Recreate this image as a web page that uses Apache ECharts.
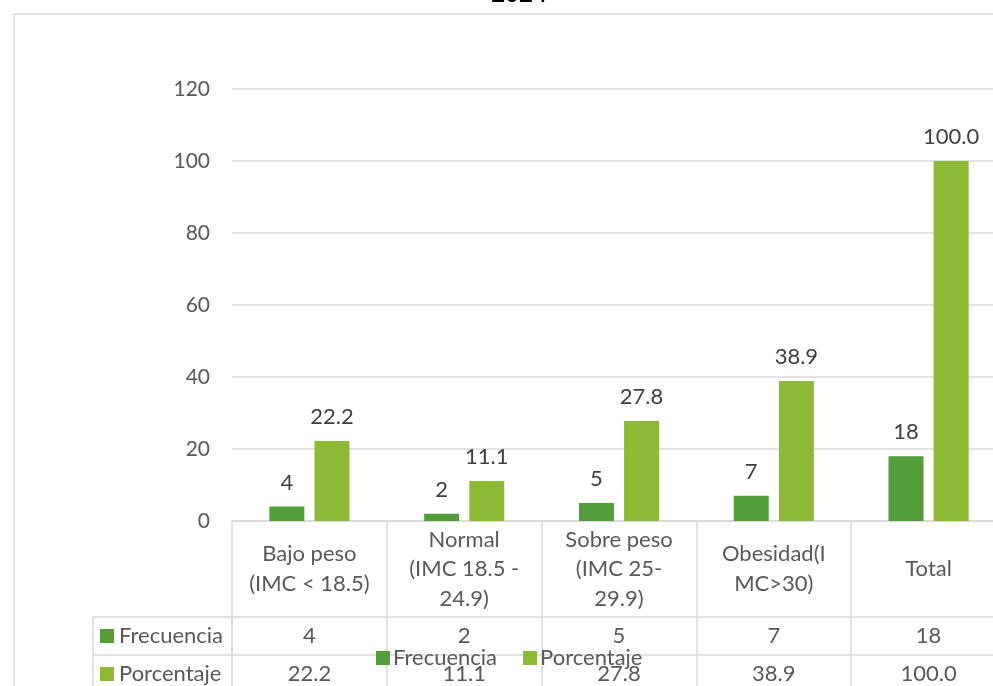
<!DOCTYPE html>
<html>
<head>
<meta charset="utf-8">
<script src="https://cdn.jsdelivr.net/npm/echarts@6/dist/echarts.min.js"></script>
<style>
  html, body { margin: 0; padding: 0; background: #fff; }
  #chart { width: 993px; height: 686px; }
</style>
</head>
<body>
<div id="chart"></div>
<script>
const categories = [
  'Bajo peso\n(IMC < 18.5)',
  'Normal\n(IMC 18.5 -\n24.9)',
  'Sobre peso\n(IMC 25-\n29.9)',
  'Obesidad(I\nMC>30)',
  'Total'
]
const frecuencia = [4, 2, 5, 7, 18]
const porcentaje = [22.2, 11.1, 27.8, 38.9, 100.0]
const yTicks = { min: 0, max: 120, interval: 20 }

const FONT = 'Lato, "Open Sans", sans-serif'
const FS = 22
const TXT = '#595959'
const LINE = '#d9d9d9'
const C_FREC = '#539e3a'
const C_PORC = '#8cba35'

// layout of the plot / data table
const gridLeft = 232
const gridTop = 89
const gridHeight = 432
const zeroY = gridTop + gridHeight // 521
const row1Y = zeroY + 96 // 617
const row2Y = row1Y + 38 // 655
const rowH = 38
const tableLeft = 93

const chart = echarts.init(document.getElementById('chart'))

const option = {
  animation: false,
  textStyle: { fontFamily: FONT },
  title: {
    text: '2024',
    left: 514,
    textAlign: 'center',
    top: -23,
    textStyle: { fontSize: 24, fontWeight: 'bold', color: '#000', fontFamily: FONT }
  },
  legend: {
    data: ['Frecuencia', 'Porcentaje'],
    left: 376,
    top: 647,
    padding: 0,
    itemWidth: 14,
    itemHeight: 14,
    itemGap: 26,
    icon: 'rect',
    textStyle: { color: TXT, fontSize: FS, fontFamily: FONT, padding: [0, 0, 0, -2] }
  },
  grid: {
    left: gridLeft,
    top: gridTop,
    right: -13,
    height: gridHeight,
    outerBoundsMode: 'none'
  },
  xAxis: [
    {
      type: 'category',
      data: categories,
      axisLine: { lineStyle: { color: LINE, width: 1.5 } },
      axisTick: { show: true, length: 180, lineStyle: { color: LINE, width: 1.5 } },
      axisLabel: {
        color: TXT,
        fontSize: FS,
        fontFamily: FONT,
        lineHeight: 29.5,
        margin: 48,
        verticalAlign: 'middle',
        interval: 0
      }
    },
    {
      type: 'category',
      position: 'bottom',
      offset: 96,
      data: frecuencia.map(String),
      axisLine: { lineStyle: { color: LINE, width: 1.5 } },
      axisTick: { show: false },
      axisLabel: { color: TXT, fontSize: FS, fontFamily: FONT, margin: 19, verticalAlign: 'middle', interval: 0 }
    },
    {
      type: 'category',
      position: 'bottom',
      offset: 134,
      data: porcentaje.map(v => v.toFixed(1)),
      axisLine: { lineStyle: { color: LINE, width: 1.5 } },
      axisTick: { show: false },
      axisLabel: { color: TXT, fontSize: FS, fontFamily: FONT, margin: 19, verticalAlign: 'middle', interval: 0 }
    }
  ],
  yAxis: {
    type: 'value',
    min: yTicks.min,
    max: yTicks.max,
    interval: yTicks.interval,
    axisLine: { show: false },
    axisTick: { show: false },
    splitLine: { lineStyle: { color: LINE, width: 1.5 } },
    axisLabel: { color: TXT, fontSize: 21, fontFamily: FONT, margin: 22 }
  },
  series: [
    {
      name: 'Frecuencia',
      type: 'bar',
      barWidth: '22.6%',
      barGap: '29%',
      itemStyle: { color: C_FREC },
      label: { show: true, position: 'top', distance: 13, color: '#404040', fontSize: FS, fontFamily: FONT },
      data: frecuencia
    },
    {
      name: 'Porcentaje',
      type: 'bar',
      barWidth: '22.6%',
      itemStyle: { color: C_PORC },
      label: {
        show: true, position: 'top', distance: 13, color: '#404040', fontSize: FS, fontFamily: FONT,
        formatter: p => p.value.toFixed(1)
      },
      data: porcentaje
    }
  ],
  graphic: [
    // outer chart-area border
    {
      type: 'rect',
      shape: { x: 14, y: 14, width: 1000, height: 700 },
      style: { fill: 'none', stroke: LINE, lineWidth: 1.5 },
      silent: true
    },
    // row-header cells of the data table
    {
      type: 'polyline',
      shape: { points: [[gridLeft, row1Y], [tableLeft, row1Y], [tableLeft, 700]] },
      style: { fill: 'none', stroke: LINE, lineWidth: 1.5 },
      silent: true
    },
    {
      type: 'line',
      shape: { x1: tableLeft, y1: row2Y, x2: gridLeft, y2: row2Y },
      style: { stroke: LINE, lineWidth: 1.5 },
      silent: true
    },
    {
      type: 'line',
      shape: { x1: gridLeft, y1: row1Y, x2: gridLeft, y2: 700 },
      style: { stroke: LINE, lineWidth: 1.5 },
      silent: true
    },
    {
      type: 'rect',
      shape: { x: 100, y: row1Y + 12, width: 14, height: 14 },
      style: { fill: C_FREC },
      silent: true
    },
    {
      type: 'text',
      x: 119,
      y: row1Y + rowH / 2,
      style: { text: 'Frecuencia', fill: TXT, font: FS + 'px ' + FONT, verticalAlign: 'middle' },
      silent: true
    },
    {
      type: 'rect',
      shape: { x: 100, y: row2Y + 12, width: 14, height: 14 },
      style: { fill: C_PORC },
      silent: true
    },
    {
      type: 'text',
      x: 119,
      y: row2Y + rowH / 2,
      style: { text: 'Porcentaje', fill: TXT, font: FS + 'px ' + FONT, verticalAlign: 'middle' },
      silent: true
    }
  ]
}

chart.setOption(option, true)
</script>
</body>
</html>
